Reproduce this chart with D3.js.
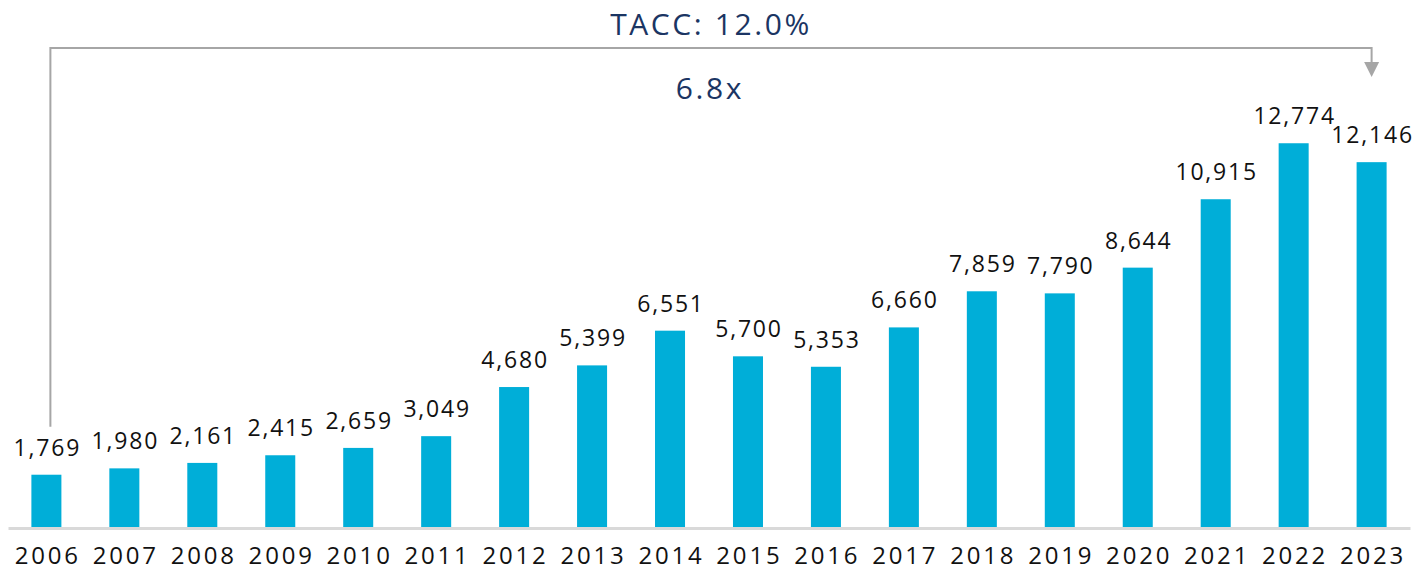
<!DOCTYPE html>
<html>
<head>
<meta charset="utf-8">
<script src="https://cdn.jsdelivr.net/npm/d3@7"></script>
<style>
  body { margin: 0; background: #fff; }
  svg { display: block; font-family: "Open Sans", sans-serif; }
</style>
</head>
<body>
<svg id="chart"></svg>
<script>
// Data
const years = ['2006', '2007', '2008', '2009', '2010', '2011', '2012', '2013', '2014',
  '2015', '2016', '2017', '2018', '2019', '2020', '2021', '2022', '2023'];
const values = [1769, 1980, 2161, 2415, 2659, 3049, 4680, 5399, 6551,
  5700, 5353, 6660, 7859, 7790, 8644, 10915, 12774, 12146];
const titleText = 'TACC: 12.0%';
const multipleText = '6.8x';

const width = 1415;
const height = 571;
const baseline = 528;

const svg = d3.select('#chart')
  .attr('width', width)
  .attr('height', height);

// Scales
const x = d3.scaleBand()
  .domain(years)
  .range([8, 1410])
  .paddingInner(0.615)
  .paddingOuter(0.3);

const y = d3.scaleLinear()
  .domain([0, 15000])
  .range([baseline, 76.2]);

const data = years.map((yr, i) => ({ year: yr, value: values[i] }));
const fmt = d3.format(',');

// Bars
svg.selectAll('.bar')
  .data(data)
  .join('rect')
  .attr('class', 'bar')
  .attr('x', d => x(d.year))
  .attr('y', d => y(d.value))
  .attr('width', x.bandwidth())
  .attr('height', d => baseline - y(d.value))
  .attr('fill', '#00aed8');

// Baseline axis
const xAxis = svg.append('g')
  .attr('transform', `translate(0,${baseline})`)
  .call(d3.axisBottom(x).tickSize(0));
xAxis.select('.domain')
  .attr('stroke', '#d9d9d9')
  .attr('stroke-width', 3);
xAxis.selectAll('text')
  .attr('y', 36)
  .attr('dy', 0)
  .attr('dx', 1.4)
  .attr('font-size', 24)
  .attr('font-family', '"Open Sans", sans-serif')
  .attr('letter-spacing', 2.8)
  .attr('fill', '#111');

// Value labels
svg.selectAll('.val')
  .data(data)
  .join('text')
  .attr('class', 'val')
  .attr('x', d => x(d.year) + x.bandwidth() / 2 + 1)
  .attr('y', d => y(d.value) - 19)
  .attr('text-anchor', 'middle')
  .attr('font-size', 23)
  .attr('letter-spacing', 1.8)
  .attr('fill', '#111')
  .text(d => fmt(d.value));

// Growth bracket with arrow
const leftX = x(years[0]) + x.bandwidth() / 2 + 4;
const rightX = x(years[years.length - 1]) + x.bandwidth() / 2;
const bracketY = 48;

svg.append('path')
  .attr('d', `M${leftX},${y(values[0]) - 48}V${bracketY}H${rightX}V64`)
  .attr('fill', 'none')
  .attr('stroke', '#a6a6a6')
  .attr('stroke-width', 2);

svg.append('path')
  .attr('d', `M${rightX - 7.5},62L${rightX + 7.5},62L${rightX},77Z`)
  .attr('fill', '#a6a6a6');

// Title texts
svg.append('text')
  .attr('x', 711)
  .attr('y', 35)
  .attr('text-anchor', 'middle')
  .attr('font-size', 30)
  .attr('letter-spacing', 2.6)
  .attr('fill', '#1b3563')
  .text(titleText);

svg.append('text')
  .attr('x', 710)
  .attr('y', 99)
  .attr('text-anchor', 'middle')
  .attr('font-size', 30)
  .attr('letter-spacing', 2.6)
  .attr('fill', '#1b3563')
  .text(multipleText);
</script>
</body>
</html>
